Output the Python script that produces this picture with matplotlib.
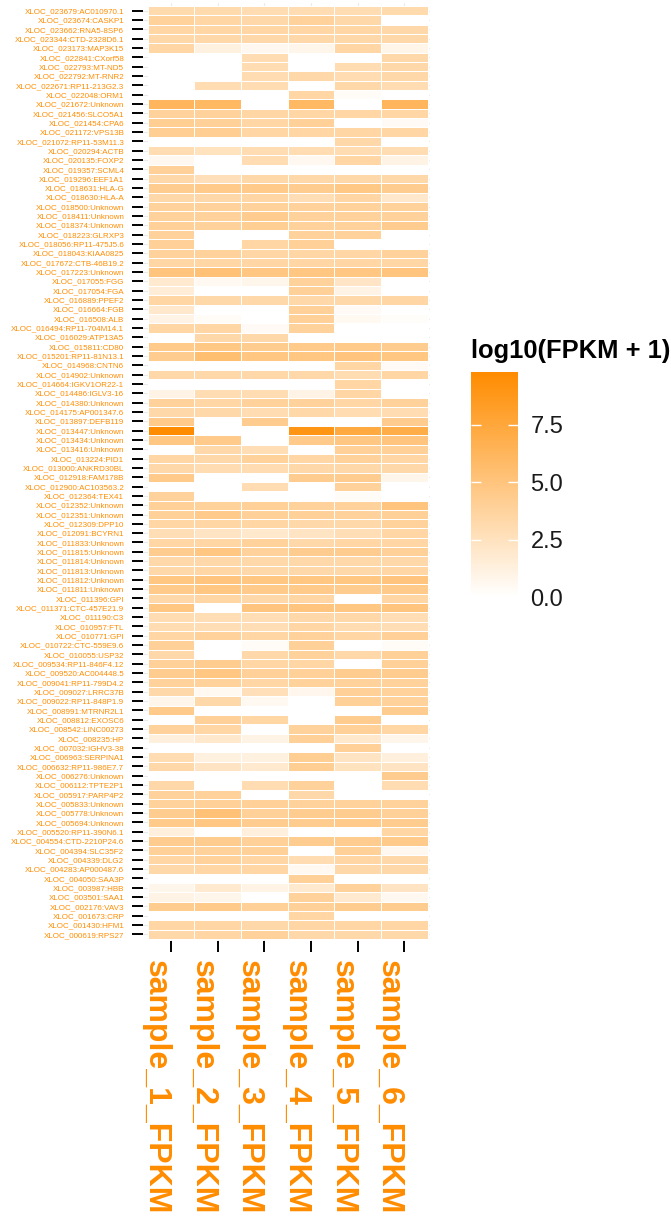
import numpy as np
import matplotlib
matplotlib.use('Agg')
import matplotlib.pyplot as plt
from matplotlib.colors import LinearSegmentedColormap

plt.rcParams['font.family'] = ['Liberation Sans', 'DejaVu Sans']

# gene rows, top to bottom
genes = [
    'XLOC_023679:AC010970.1', 'XLOC_023674:CASKP1', 'XLOC_023662:RNA5-8SP6',
    'XLOC_023344:CTD-2328D6.1', 'XLOC_023173:MAP3K15', 'XLOC_022841:CXorf58',
    'XLOC_022793:MT-ND5', 'XLOC_022792:MT-RNR2', 'XLOC_022671:RP11-213G2.3',
    'XLOC_022048:ORM1', 'XLOC_021672:Unknown', 'XLOC_021456:SLCO5A1',
    'XLOC_021454:CPA6', 'XLOC_021172:VPS13B', 'XLOC_021072:RP11-53M11.3',
    'XLOC_020294:ACTB', 'XLOC_020135:FOXP2', 'XLOC_019357:SCML4',
    'XLOC_019296:EEF1A1', 'XLOC_018631:HLA-G', 'XLOC_018630:HLA-A',
    'XLOC_018500:Unknown', 'XLOC_018411:Unknown', 'XLOC_018374:Unknown',
    'XLOC_018223:GLRXP3', 'XLOC_018056:RP11-475J5.6', 'XLOC_018043:KIAA0825',
    'XLOC_017672:CTB-46B19.2', 'XLOC_017223:Unknown', 'XLOC_017055:FGG',
    'XLOC_017054:FGA', 'XLOC_016889:PPEF2', 'XLOC_016664:FGB',
    'XLOC_016508:ALB', 'XLOC_016494:RP11-704M14.1', 'XLOC_016029:ATP13A5',
    'XLOC_015811:CD80', 'XLOC_015201:RP11-81N13.1', 'XLOC_014968:CNTN6',
    'XLOC_014902:Unknown', 'XLOC_014664:IGKV1OR22-1', 'XLOC_014486:IGLV3-16',
    'XLOC_014380:Unknown', 'XLOC_014175:AP001347.6', 'XLOC_013897:DEFB119',
    'XLOC_013447:Unknown', 'XLOC_013434:Unknown', 'XLOC_013416:Unknown',
    'XLOC_013224:PID1', 'XLOC_013000:ANKRD30BL', 'XLOC_012918:FAM178B',
    'XLOC_012900:AC103563.2', 'XLOC_012364:TEX41', 'XLOC_012352:Unknown',
    'XLOC_012351:Unknown', 'XLOC_012309:DPP10', 'XLOC_012091:BCYRN1',
    'XLOC_011833:Unknown', 'XLOC_011815:Unknown', 'XLOC_011814:Unknown',
    'XLOC_011813:Unknown', 'XLOC_011812:Unknown', 'XLOC_011811:Unknown',
    'XLOC_011396:GPI', 'XLOC_011371:CTC-457E21.9', 'XLOC_011190:C3',
    'XLOC_010957:FTL', 'XLOC_010771:GPI', 'XLOC_010722:CTC-559E9.6',
    'XLOC_010055:USP32', 'XLOC_009534:RP11-846F4.12', 'XLOC_009520:AC004448.5',
    'XLOC_009041:RP11-799D4.2', 'XLOC_009027:LRRC37B', 'XLOC_009022:RP11-848P1.9',
    'XLOC_008991:MTRNR2L1', 'XLOC_008812:EXOSC6', 'XLOC_008542:LINC00273',
    'XLOC_008235:HP', 'XLOC_007032:IGHV3-38', 'XLOC_006963:SERPINA1',
    'XLOC_006632:RP11-986E7.7', 'XLOC_006276:Unknown', 'XLOC_006112:TPTE2P1',
    'XLOC_005917:PARP4P2', 'XLOC_005833:Unknown', 'XLOC_005778:Unknown',
    'XLOC_005694:Unknown', 'XLOC_005520:RP11-390N6.1', 'XLOC_004554:CTD-2210P24.6',
    'XLOC_004394:SLC35F2', 'XLOC_004339:DLG2', 'XLOC_004283:AP000487.6',
    'XLOC_004050:SAA3P', 'XLOC_003987:HBB', 'XLOC_003501:SAA1',
    'XLOC_002176:VAV3', 'XLOC_001673:CRP', 'XLOC_001430:HFM1',
    'XLOC_000619:RPS27',
]

samples = ['sample_1_FPKM', 'sample_2_FPKM', 'sample_3_FPKM',
           'sample_4_FPKM', 'sample_5_FPKM', 'sample_6_FPKM']

# log10(FPKM + 1) per sample, same order as genes
sample_1 = [3.2, 3.8, 3.5, 3.3, 3.5, 0, 0, 0, 0, 0,
            6.3, 3.8, 4.2, 4.2, 0, 3.0, 0.6, 4.0, 3.3, 4.3,
            3.3, 3.8, 3.8, 4.0, 3.8, 4.0, 3.8, 3.5, 5.0, 1.8,
            1.5, 3.5, 2.0, 1.0, 3.5, 0, 4.5, 4.3, 0, 3.3,
            0, 1.0, 3.8, 3.3, 4.5, 9.8, 4.8, 0, 3.5, 3.3,
            4.5, 0, 3.8, 4.0, 4.0, 3.5, 2.8, 3.5, 4.3, 3.3,
            3.3, 4.8, 4.5, 3.3, 4.8, 3.0, 3.0, 3.5, 4.0, 3.3,
            4.0, 4.3, 3.8, 3.3, 0.8, 4.5, 0, 3.8, 1.3, 0,
            3.0, 3.3, 0, 3.3, 3.8, 3.8, 4.3, 4.5, 1.3, 4.3,
            4.0, 3.5, 3.3, 0, 0.8, 1.0, 4.3, 0, 3.5, 3.3]
sample_2 = [3.2, 3.5, 3.5, 3.3, 1.2, 0, 0, 0, 3.0, 0,
            6.0, 3.8, 4.0, 4.2, 0, 2.5, 0, 0, 2.7, 4.5,
            3.3, 3.8, 3.8, 3.8, 0, 0, 3.8, 3.5, 5.3, 0.5,
            0, 3.3, 0, 0.3, 3.5, 3.3, 4.7, 5.5, 0, 3.3,
            0, 3.0, 3.5, 3.3, 0, 0, 4.5, 3.3, 3.3, 3.0,
            0, 0, 0, 3.8, 4.5, 3.5, 2.3, 3.5, 4.8, 3.3,
            3.5, 5.0, 4.8, 3.5, 0, 2.8, 2.8, 3.8, 0, 0,
            4.3, 4.8, 3.8, 0.5, 3.3, 0, 4.0, 3.5, 2.0, 0,
            1.2, 2.3, 0, 0, 3.8, 4.0, 5.3, 4.8, 0, 4.3,
            3.8, 3.8, 3.5, 0, 1.8, 0.8, 4.5, 0, 3.5, 3.5]
sample_3 = [3.0, 3.3, 3.5, 3.3, 0.6, 3.0, 3.0, 3.0, 3.0, 0,
            0, 3.5, 3.5, 3.5, 0, 3.0, 3.0, 0, 3.3, 4.5,
            3.5, 3.8, 4.3, 4.2, 0, 3.5, 3.5, 3.5, 4.8, 0.8,
            0, 3.3, 0, 0, 0.4, 3.3, 4.3, 4.8, 0, 3.3,
            0, 3.0, 3.8, 3.0, 4.3, 0, 0, 2.8, 3.8, 3.0,
            0, 3.0, 0, 4.0, 4.0, 3.5, 2.0, 3.8, 3.8, 3.3,
            3.3, 4.8, 4.5, 3.3, 5.0, 2.8, 2.8, 3.5, 0.3, 3.3,
            3.5, 4.0, 3.5, 2.7, 0.5, 0, 3.5, 0, 1.0, 0,
            1.2, 1.8, 0, 3.0, 0, 4.0, 4.0, 4.3, 1.3, 4.0,
            4.0, 3.5, 3.5, 0, 1.0, 0, 4.0, 0, 3.3, 3.8]
sample_4 = [3.0, 3.8, 3.5, 3.3, 0.8, 0, 0, 3.3, 0, 3.5,
            6.0, 3.5, 4.0, 3.5, 0, 3.0, 0.6, 0, 3.3, 4.3,
            2.8, 3.8, 3.8, 3.8, 3.8, 4.0, 3.5, 3.5, 4.8, 3.8,
            4.0, 3.3, 4.0, 4.0, 3.8, 0, 4.5, 4.8, 0, 3.3,
            0, 1.0, 3.8, 3.3, 0, 9.0, 4.5, 0, 3.5, 3.3,
            4.3, 0, 0, 3.8, 4.0, 3.3, 2.3, 3.3, 4.3, 3.3,
            3.3, 4.8, 4.5, 3.5, 5.0, 3.3, 3.5, 3.8, 4.0, 3.8,
            3.5, 4.0, 3.8, 0.7, 0, 0, 0, 3.8, 4.0, 0,
            4.2, 4.2, 0, 3.8, 3.3, 3.8, 4.3, 4.3, 0, 4.3,
            0, 3.0, 0.5, 4.0, 1.8, 3.8, 4.0, 3.5, 3.5, 3.3]
sample_5 = [3.0, 3.3, 3.5, 3.3, 3.5, 0, 3.0, 3.0, 3.3, 0.3,
            0, 3.5, 0, 3.5, 3.3, 3.0, 3.5, 0, 3.3, 4.7,
            3.5, 3.8, 3.8, 3.8, 3.8, 0, 3.5, 3.5, 4.8, 2.2,
            1.0, 3.3, 0.4, 0.5, 0, 0, 4.5, 5.0, 3.5, 3.0,
            3.5, 3.5, 3.5, 3.0, 0, 7.3, 4.8, 4.0, 3.8, 3.3,
            4.3, 3.8, 0.3, 3.8, 3.8, 3.3, 2.8, 3.5, 4.3, 3.3,
            3.3, 4.8, 4.3, 0, 4.8, 3.3, 3.0, 3.5, 0, 3.3,
            0, 4.3, 3.8, 4.0, 4.0, 0, 4.3, 4.0, 2.0, 4.0,
            2.3, 2.5, 0, 0, 0, 3.8, 4.3, 4.5, 0, 4.3,
            4.0, 3.5, 3.3, 0, 3.8, 1.8, 4.3, 0, 3.5, 3.3]
sample_6 = [3.2, 0, 3.3, 3.3, 0.9, 3.3, 3.3, 3.3, 3.0, 0,
            6.3, 3.5, 0.4, 3.5, 0, 3.0, 1.0, 0, 3.3, 4.3,
            2.0, 3.8, 3.8, 4.3, 0, 0, 3.8, 3.5, 5.0, 0,
            0, 3.5, 0, 0.2, 0, 0, 4.3, 4.8, 0.4, 3.5,
            0, 0, 3.8, 3.0, 4.3, 7.0, 5.0, 4.0, 3.5, 3.3,
            0.8, 0, 0, 5.0, 4.0, 3.8, 3.5, 3.5, 4.0, 3.3,
            3.5, 5.0, 4.5, 3.5, 5.0, 2.8, 2.8, 4.0, 0.3, 4.0,
            4.0, 4.3, 3.8, 3.8, 3.8, 4.3, 0, 3.5, 0.8, 0,
            1.3, 2.3, 4.3, 3.0, 0, 3.8, 4.0, 4.3, 3.5, 4.5,
            0.6, 3.3, 3.3, 0, 2.3, 0.6, 4.3, 0, 3.5, 3.3]

vmax = 9.8
data = np.array([sample_1, sample_2, sample_3, sample_4, sample_5, sample_6]).T

W, H = 671, 1218
fig = plt.figure(figsize=(W / 100, H / 100), dpi=100)
fig.patch.set_facecolor('white')

cmap = LinearSegmentedColormap.from_list('white_orange', ['white', 'darkorange'])

ax = fig.add_axes([143 / W, 1 - 941 / H, (430 - 143) / W, (941 - 3) / H])
ax.pcolormesh(np.arange(len(samples) + 1), np.arange(len(genes) + 1), data,
              cmap=cmap, vmin=0, vmax=vmax, edgecolors='white', linewidth=0.6)
ax.set_xlim(-0.1, 6.05)
ax.set_ylim(100.21, -0.32)

ax.set_xticks(np.arange(len(samples)) + 0.5)
ax.set_xticklabels(samples, rotation=-90, rotation_mode='anchor',
                   ha='left', va='top', color='darkorange', fontsize=23,
                   fontweight='bold')
ax.set_yticks(np.arange(len(genes)) + 0.5)
ax.set_yticklabels(genes, color='darkorange', fontsize=5.8)
ax.tick_params(axis='both', length=8, width=1.4, color='black')
ax.tick_params(axis='x', pad=5.5)
ax.tick_params(axis='y', pad=5.5)
for s in ax.spines.values():
    s.set_visible(False)
ax.grid(True, color='#EBEBEB', linewidth=0.8)
ax.set_axisbelow(True)

# legend
cax = fig.add_axes([471 / W, 1 - 597 / H, (518 - 471) / W, (597 - 372) / H])
sm = plt.cm.ScalarMappable(cmap=cmap, norm=plt.Normalize(0, vmax))
cb = fig.colorbar(sm, cax=cax, ticks=[0, 2.5, 5.0, 7.5])
cb.outline.set_visible(False)
cb.ax.set_yticklabels(['0.0', '2.5', '5.0', '7.5'])
cax.tick_params(direction='in', left=True, right=True, color='white',
                length=7, width=1, labelsize=17, labelcolor='#1A1A1A', pad=9)
fig.text(471 / W, 1 - 358 / H, 'log10(FPKM + 1)', fontsize=18.4,
         fontweight='bold', ha='left', va='baseline')

plt.savefig('out.png', dpi=100)
